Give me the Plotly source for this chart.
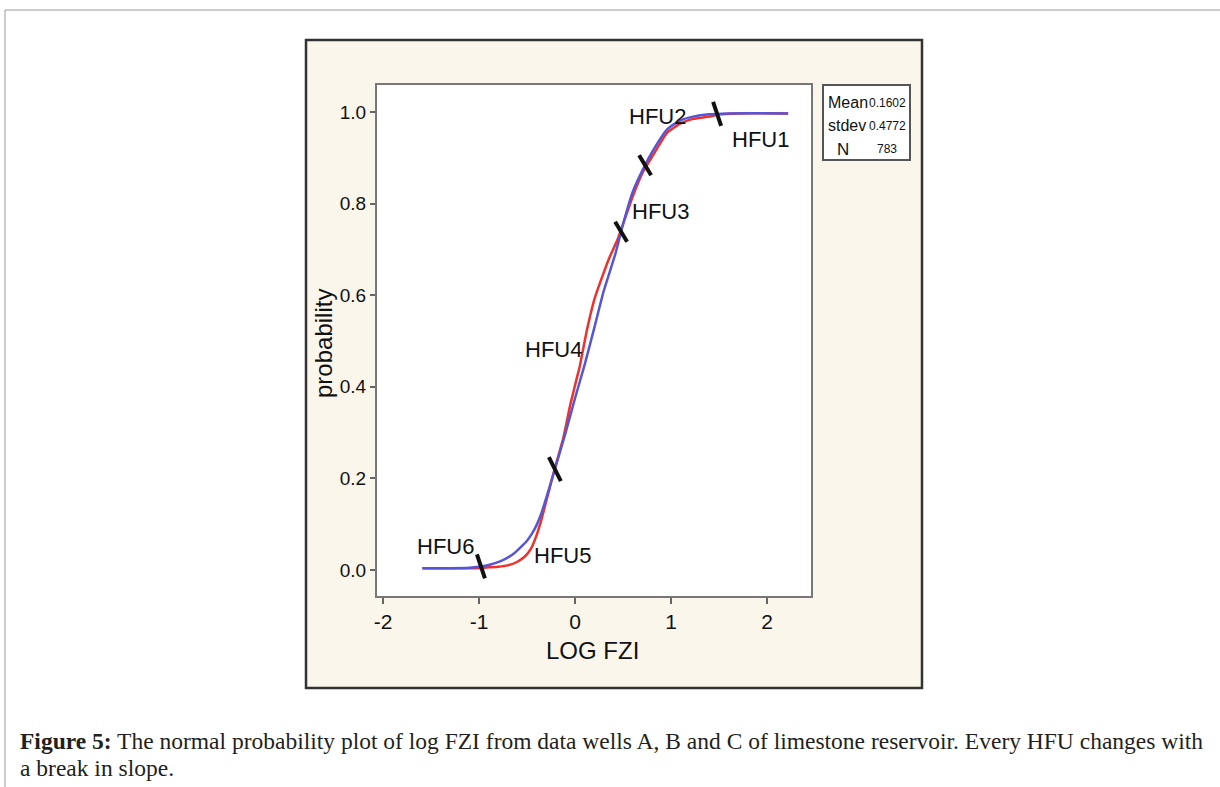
import numpy as np
import plotly.graph_objects as go

# ---- data: normal probability plot of log FZI ----
# fitted normal curve (blue)
fit_x = [-1.59, -1.30, -1.10, -1.00, -0.90, -0.78, -0.65, -0.57, -0.50, -0.45,
         -0.40, -0.35, -0.30, -0.21, -0.10, 0.00, 0.10, 0.20, 0.30, 0.42,
         0.50, 0.60, 0.71, 0.81, 0.96, 1.10, 1.23, 1.40, 1.60, 2.22]
fit_p = [0.004, 0.004, 0.005, 0.007, 0.011, 0.019, 0.034, 0.049, 0.064, 0.079,
         0.098, 0.124, 0.157, 0.220, 0.298, 0.375, 0.448, 0.528, 0.610, 0.690,
         0.755, 0.825, 0.876, 0.915, 0.962, 0.982, 0.990, 0.995, 0.997, 0.997]

# observed cumulative probability (red)
obs_x = [-1.59, -1.30, -1.05, -0.95, -0.80, -0.70, -0.60, -0.52, -0.46, -0.40,
         -0.35, -0.30, -0.25, -0.21, -0.12, -0.05, 0.02, 0.05, 0.12, 0.20,
         0.30, 0.36, 0.44, 0.50, 0.60, 0.71, 0.81, 0.96, 1.10, 1.23,
         1.40, 1.50, 1.70, 2.22]
obs_p = [0.004, 0.004, 0.004, 0.005, 0.007, 0.010, 0.018, 0.030, 0.046, 0.076,
         0.110, 0.150, 0.190, 0.222, 0.290, 0.360, 0.420, 0.445, 0.520, 0.590,
         0.650, 0.683, 0.720, 0.755, 0.815, 0.870, 0.905, 0.955, 0.975, 0.985,
         0.990, 0.995, 0.997, 0.997]

# slope breaks separating the hydraulic flow units
break_x = [-0.98, -0.21, 0.48, 0.73, 1.48]

# unit labels and where they sit
hfu_names = ["HFU1", "HFU2", "HFU3", "HFU4", "HFU5", "HFU6"]
hfu_x = [1.93, 0.86, 0.89, -0.22, -0.13, -1.35]
hfu_y = [0.939, 0.991, 0.782, 0.482, 0.031, 0.052]

stat_names = ["Mean", "stdev", "N"]
stat_values = ["0.1602", "0.4772", "783"]

x_ticks = [-2, -1, 0, 1, 2]
x_ticklabels = ["-2", "-1", "0", "1", "2"]
y_ticks = [0.0, 0.2, 0.4, 0.6, 0.8, 1.0]
y_ticklabels = ["0.0", "0.2", "0.4", "0.6", "0.8", "1.0"]

caption_line1 = ("<b>Figure 5:</b> The normal probability plot of log FZI from data wells A, B and C "
                 "of limestone reservoir. Every HFU changes with")
caption_line2 = "a break in slope."

# ---- layout geometry (pixels) ----
W, H = 1220, 787
PL, PR, PT, PB = 377, 811, 85, 596


def fx(px):
    return (px - PL) / (PR - PL)


def fy(py):
    return (PB - py) / (PB - PT)


SANS = "Liberation Sans Narrow, Arial Narrow, Liberation Sans, Arial, sans-serif"
SERIF = "Liberation Serif, Times New Roman, serif"
PANEL = "#FAF6EB"
INK = "#111111"

fig = go.Figure()

fig.add_trace(go.Scatter(x=obs_x, y=obs_p, mode="lines",
                         line=dict(color="#F0302A", width=2.5, shape="spline", smoothing=0.4),
                         hoverinfo="skip"))
fig.add_trace(go.Scatter(x=fit_x, y=fit_p, mode="lines",
                         line=dict(color="#5555D8", width=2.5, shape="spline", smoothing=0.6),
                         hoverinfo="skip"))

shapes = []
# page frame
shapes.append(dict(type="line", xref="paper", yref="paper", x0=fx(5), x1=fx(1220),
                   y0=fy(10), y1=fy(10), line=dict(color="#9A9A9A", width=1), layer="below"))
shapes.append(dict(type="line", xref="paper", yref="paper", x0=fx(5), x1=fx(5),
                   y0=fy(10), y1=fy(787), line=dict(color="#9A9A9A", width=1), layer="below"))
# beige figure panel
shapes.append(dict(type="rect", xref="paper", yref="paper", x0=fx(306), x1=fx(922),
                   y0=fy(688), y1=fy(40), fillcolor=PANEL,
                   line=dict(color="#333333", width=2.5), layer="below"))
# white plotting area
shapes.append(dict(type="rect", xref="paper", yref="paper", x0=0, x1=1, y0=0, y1=1,
                   fillcolor="white", line=dict(width=0), layer="below"))
# statistics box
shapes.append(dict(type="rect", xref="paper", yref="paper", x0=fx(823), x1=fx(910),
                   y0=fy(160), y1=fy(85), fillcolor="white",
                   line=dict(color="#555555", width=2), layer="below"))

# slope-break marks, anchored on the fitted curve
mark_tilt = [(4, 12), (6, 12), (6, 10), (6, 10), (4, 12)]
for bx, (dx, dy) in zip(break_x, mark_tilt):
    by = float(np.interp(bx, fit_x, fit_p))
    shapes.append(dict(type="line", xref="x", yref="y", xsizemode="pixel", ysizemode="pixel",
                       xanchor=bx, yanchor=by, x0=-dx, x1=dx, y0=dy, y1=-dy,
                       line=dict(color=INK, width=4)))

annotations = []
for name, hx, hy in zip(hfu_names, hfu_x, hfu_y):
    annotations.append(dict(x=hx, y=hy, xref="x", yref="y", text=name, showarrow=False,
                            xanchor="center", yanchor="middle",
                            font=dict(family=SANS, size=22, color=INK)))

# axis titles
annotations.append(dict(x=fx(592), y=fy(650), xref="paper", yref="paper", text="LOG FZI",
                        showarrow=False, xanchor="center", yanchor="middle",
                        font=dict(family=SANS, size=24, color=INK)))
annotations.append(dict(x=fx(323), y=fy(344), xref="paper", yref="paper", text="probability",
                        textangle=-90, showarrow=False, xanchor="center", yanchor="middle",
                        font=dict(family="Liberation Sans, Arial, sans-serif", size=24,
                                  color=INK)))

# statistics box contents
row_y = [102, 125, 149]
for i, (nm, val) in enumerate(zip(stat_names, stat_values)):
    if nm == "N":
        annotations.append(dict(x=fx(843), y=fy(row_y[i]), xref="paper", yref="paper", text=nm,
                                showarrow=False, xanchor="center", yanchor="middle",
                                font=dict(family=SANS, size=17, color=INK)))
        annotations.append(dict(x=fx(899), y=fy(row_y[i]), xref="paper", yref="paper", text=val,
                                showarrow=False, xanchor="right", yanchor="middle",
                                font=dict(family=SANS, size=12, color=INK)))
    else:
        annotations.append(dict(x=fx(826), y=fy(row_y[i]), xref="paper", yref="paper", text=nm,
                                showarrow=False, xanchor="left", yanchor="middle",
                                font=dict(family=SANS, size=16, color=INK)))
        annotations.append(dict(x=fx(908), y=fy(row_y[i] + 1), xref="paper", yref="paper",
                                text=val, showarrow=False, xanchor="right", yanchor="middle",
                                font=dict(family=SANS, size=12, color=INK)))

# caption
annotations.append(dict(x=fx(18), y=fy(741), xref="paper", yref="paper", text=caption_line1,
                        showarrow=False, xanchor="left", yanchor="middle",
                        font=dict(family=SERIF, size=23.5, color="#231F20")))
annotations.append(dict(x=fx(18), y=fy(768), xref="paper", yref="paper", text=caption_line2,
                        showarrow=False, xanchor="left", yanchor="middle",
                        font=dict(family=SERIF, size=23.5, color="#231F20")))

fig.update_layout(
    width=W, height=H,
    margin=dict(l=PL, r=W - PR, t=PT, b=H - PB, autoexpand=False),
    paper_bgcolor="white", plot_bgcolor="rgba(0,0,0,0)",
    showlegend=False,
    shapes=shapes, annotations=annotations,
    xaxis=dict(range=[-2.0625, 2.458], tickvals=x_ticks, ticktext=x_ticklabels,
               ticks="outside", ticklen=6, tickwidth=2, tickcolor="#666666",
               showline=True, linecolor="#777777", linewidth=2, mirror=True,
               showgrid=False, zeroline=False,
               tickfont=dict(family=SANS, size=21, color=INK)),
    yaxis=dict(range=[-0.0568, 1.059], tickvals=y_ticks, ticktext=y_ticklabels,
               ticks="outside", ticklen=5, tickwidth=2, tickcolor="#666666",
               showline=True, linecolor="#777777", linewidth=2, mirror=True,
               showgrid=False, zeroline=False, ticklabelstandoff=0,
               tickfont=dict(family=SANS, size=19, color=INK)),
)

fig.write_html("out.html")
